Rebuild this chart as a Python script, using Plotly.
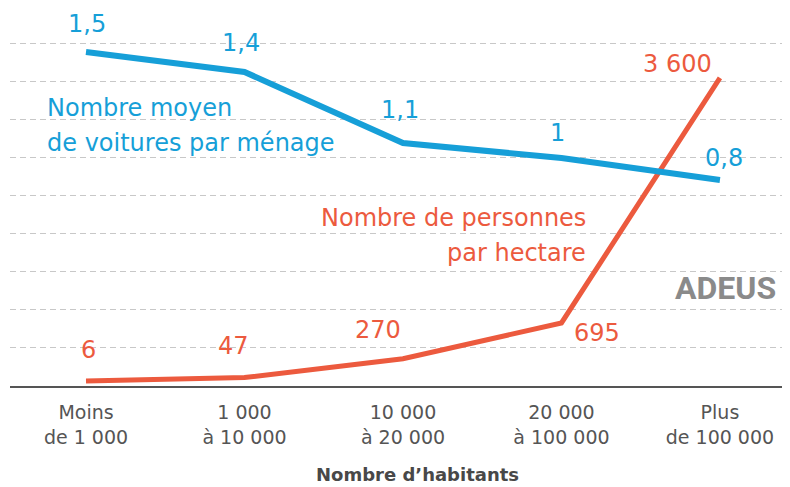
import plotly.graph_objects as go

# Population size classes (x axis)
categories = ["Moins<br>de 1 000", "1 000<br>à 10 000", "10 000<br>à 20 000",
              "20 000<br>à 100 000", "Plus<br>de 100 000"]

# Average number of cars per household (line positions)
cars_values = [1.5, 1.4, 1.045, 0.97, 0.86]
cars_labels = ["1,5", "1,4", "1,1", "1", "0,8"]

# Persons per hectare
density_values = [6, 47, 270, 695, 3600]
density_labels = ["6", "47", "270", "695", "3 600"]

BLUE = "#169fd8"
RED = "#ec5a3e"
FONT = "DejaVu Sans"

x = list(range(len(categories)))

fig = go.Figure()

# hidden trace on y to carry the dashed grid
fig.add_trace(go.Scatter(x=x, y=[None] * len(x), yaxis="y", showlegend=False, hoverinfo="skip"))

fig.add_trace(go.Scatter(
    x=x, y=density_values, yaxis="y2", mode="lines",
    line=dict(color=RED, width=5), showlegend=False,
))
fig.add_trace(go.Scatter(
    x=x, y=cars_values, yaxis="y3", mode="lines",
    line=dict(color=BLUE, width=6), showlegend=False,
))

# value label offsets in pixels from each point
cars_shift = [(1, 28), (-3, 29), (-3, 33), (-4, 25), (4, 22)]
density_shift = [(2, 31), (-11, 32), (-25, 29), (36, -10), (-42, 14)]

annotations = []
for i, (v, t) in enumerate(zip(cars_values, cars_labels)):
    annotations.append(dict(
        x=i, y=v, xref="x", yref="y3", text=t, showarrow=False,
        xshift=cars_shift[i][0], yshift=cars_shift[i][1],
        font=dict(family=FONT, size=24, color=BLUE),
    ))
for i, (v, t) in enumerate(zip(density_values, density_labels)):
    annotations.append(dict(
        x=i, y=v, xref="x", yref="y2", text=t, showarrow=False,
        xshift=density_shift[i][0], yshift=density_shift[i][1],
        font=dict(family=FONT, size=24, color=RED),
    ))


def text_note(txt, px, py, color, anchor="left", size=24, family=FONT):
    return dict(x=px, y=py, xref="paper", yref="paper", xanchor=anchor, yanchor="middle",
                text=txt, showarrow=False, font=dict(family=family, size=size, color=color))


annotations += [
    text_note("Nombre moyen", 0.045, 0.735, BLUE),
    text_note("de voitures par ménage", 0.045, 0.643, BLUE),
    text_note("Nombre de personnes", 0.741, 0.444, RED, anchor="right"),
    text_note("par hectare", 0.741, 0.352, RED, anchor="right"),
    text_note("<b>ADEUS</b>", 0.917, 0.259, "#8a8a8a", anchor="center", size=32, family="Roboto"),
    text_note("<b>Nombre d’habitants</b>", 0.523, -0.233, "#484848", anchor="center", size=18),
]

fig.update_layout(
    width=790, height=487,
    margin=dict(l=2, r=8, t=0, b=109),
    plot_bgcolor="white", paper_bgcolor="white",
    showlegend=False,
    xaxis=dict(
        range=[-0.4795, 4.442], tickvals=x, ticktext=categories,
        showgrid=False, zeroline=False, showline=True, linecolor="#555", linewidth=2,
        ticks="", ticklabelstandoff=8, tickfont=dict(family=FONT, size=19, color="#555"),
    ),
    yaxis=dict(
        range=[0, 378 / 38.1], tickvals=list(range(1, 10)), showticklabels=False,
        showgrid=True, gridcolor="#c8c8c8", griddash="6px,4px", gridwidth=1, zeroline=False,
    ),
    yaxis2=dict(range=[-53, 4430], overlaying="y", visible=False),
    yaxis3=dict(range=[-0.17, 1.72], overlaying="y", visible=False),
    annotations=annotations,
)

fig.write_html("out.html")
